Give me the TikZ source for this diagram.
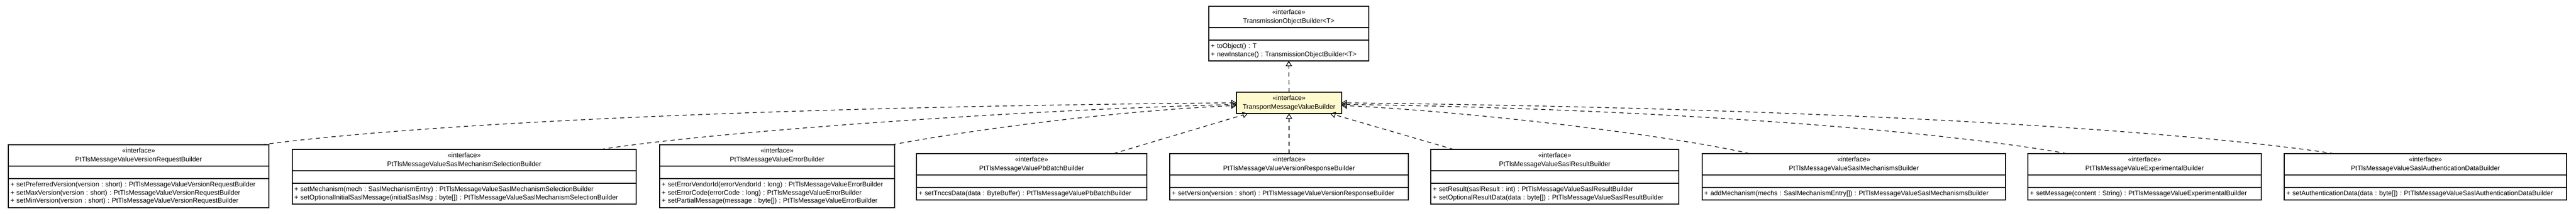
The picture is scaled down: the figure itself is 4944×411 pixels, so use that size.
\documentclass[tikz,border=0pt]{standalone}
\usepackage{fontspec}
\setmainfont{Liberation Sans}
\usetikzlibrary{arrows.meta, positioning}
\definecolor{ifacefill}{RGB}{255,250,205}

\begin{document}
\begin{tikzpicture}[x=0.5pt, y=-0.5pt,
        classhead/.style={rectangle, draw, fill=white, line width=0.8pt, outer sep=0pt, inner sep=0pt, minimum width=#1, minimum height=20.5pt, align=center, anchor=north, font=\fontsize{6.4}{8.5}\selectfont\frenchspacing},
        classattr/.style={rectangle, draw, fill=white, line width=0.8pt, outer sep=0pt, inner sep=0pt, minimum width=#1, minimum height=12pt},
        classops/.style 2 args={rectangle, draw, fill=white, line width=0.8pt, outer sep=0pt, inner xsep=2pt, inner ysep=0pt, text width=#1, minimum height=#2, align=left, font=\fontsize{6.4}{7.75}\selectfont\frenchspacing},
        impl/.style={line width=0.6pt, dash pattern=on 4pt off 3.5pt, -{Triangle[open, length=5pt, width=6pt]}}
    ]
        \useasboundingbox (0,0) rectangle (4944,411);

        % Parent interfaces
        \node[classhead=153.5pt] (tobH) at (2473.5,12) {«interface»\\TransmissionObjectBuilder<T>};
        \node[classattr=153.5pt, below=0pt of tobH] (tobA) {};
        \node[classops={149.5pt}{20pt}, below=0pt of tobA] (tobM) {+ toObject() : T\\+ newInstance() : TransmissionObjectBuilder<T>};

        \node[classhead=101pt, fill=ifacefill] (tmvH) at (2474,177) {«interface»\\TransportMessageValueBuilder};

        % Message value builders
        \node[classhead=250pt] (vreqH) at (266,278) {«interface»\\PtTlsMessageValueVersionRequestBuilder};
        \node[classattr=250pt, below=0pt of vreqH] (vreqA) {};
        \node[classops={246pt}{28pt}, below=0pt of vreqA] (vreqM) {+ setPreferredVersion(version : short) : PtTlsMessageValueVersionRequestBuilder\\+ setMaxVersion(version : short) : PtTlsMessageValueVersionRequestBuilder\\+ setMinVersion(version : short) : PtTlsMessageValueVersionRequestBuilder};

        \node[classhead=330pt] (mselH) at (891,287) {«interface»\\PtTlsMessageValueSaslMechanismSelectionBuilder};
        \node[classattr=330pt, below=0pt of mselH] (mselA) {};
        \node[classops={326pt}{20pt}, below=0pt of mselA] (mselM) {+ setMechanism(mech : SaslMechanismEntry) : PtTlsMessageValueSaslMechanismSelectionBuilder\\+ setOptionalInitialSaslMessage(initialSaslMsg : byte[]) : PtTlsMessageValueSaslMechanismSelectionBuilder};

        \node[classhead=225.5pt] (errH) at (1491.5,278) {«interface»\\PtTlsMessageValueErrorBuilder};
        \node[classattr=225.5pt, below=0pt of errH] (errA) {};
        \node[classops={221.5pt}{28pt}, below=0pt of errA] (errM) {+ setErrorVendorId(errorVendorId : long) : PtTlsMessageValueErrorBuilder\\+ setErrorCode(errorCode : long) : PtTlsMessageValueErrorBuilder\\+ setPartialMessage(message : byte[]) : PtTlsMessageValueErrorBuilder};

        \node[classhead=221pt] (pbbH) at (1980,295) {«interface»\\PtTlsMessageValuePbBatchBuilder};
        \node[classattr=221pt, below=0pt of pbbH] (pbbA) {};
        \node[classops={217pt}{12pt}, below=0pt of pbbA] (pbbM) {+ setTnccsData(data : ByteBuffer) : PtTlsMessageValuePbBatchBuilder};

        \node[classhead=229pt] (vrspH) at (2474,295) {«interface»\\PtTlsMessageValueVersionResponseBuilder};
        \node[classattr=229pt, below=0pt of vrspH] (vrspA) {};
        \node[classops={225pt}{12pt}, below=0pt of vrspA] (vrspM) {+ setVersion(version : short) : PtTlsMessageValueVersionResponseBuilder};

        \node[classhead=238pt] (sresH) at (2984,287) {«interface»\\PtTlsMessageValueSaslResultBuilder};
        \node[classattr=238pt, below=0pt of sresH] (sresA) {};
        \node[classops={234pt}{20pt}, below=0pt of sresA] (sresM) {+ setResult(saslResult : int) : PtTlsMessageValueSaslResultBuilder\\+ setOptionalResultData(data : byte[]) : PtTlsMessageValueSaslResultBuilder};

        \node[classhead=291pt] (mechsH) at (3558,295) {«interface»\\PtTlsMessageValueSaslMechanismsBuilder};
        \node[classattr=291pt, below=0pt of mechsH] (mechsA) {};
        \node[classops={287pt}{12pt}, below=0pt of mechsA] (mechsM) {+ addMechanism(mechs : SaslMechanismEntry[]) : PtTlsMessageValueSaslMechanismsBuilder};

        \node[classhead=224pt] (expH) at (4116,295) {«interface»\\PtTlsMessageValueExperimentalBuilder};
        \node[classattr=224pt, below=0pt of expH] (expA) {};
        \node[classops={220pt}{12pt}, below=0pt of expA] (expM) {+ setMessage(content : String) : PtTlsMessageValueExperimentalBuilder};

        \node[classhead=271pt] (authH) at (4655,295) {«interface»\\PtTlsMessageValueSaslAuthenticationDataBuilder};
        \node[classattr=271pt, below=0pt of authH] (authA) {};
        \node[classops={267pt}{12pt}, below=0pt of authA] (authM) {+ setAuthenticationData(data : byte[]) : PtTlsMessageValueSaslAuthenticationDataBuilder};

        % Realisations
        \draw[impl] (tmvH.north) -- (tobM.south);
        \draw[impl] ([xshift=-7pt]vreqH.north east) .. controls +(300,-40) and +(-900,7.5) .. (tmvH.west);
        \draw[impl] ([xshift=-34pt]mselH.north east) .. controls +(200,-32) and +(-450,12) .. ([yshift=-1.5pt]tmvH.west);
        \draw[impl] ([xshift=-2.5pt]errH.north east) .. controls +(150,-28) and +(-250,12) .. ([yshift=-2.5pt]tmvH.west);
        \draw[impl] ([xshift=-32pt]pbbH.north east) -- ([xshift=11pt]tmvH.south west);
        \draw[impl] (vrspH.north) -- (tmvH.south);
        \draw[impl] ([xshift=22pt]sresH.north west) -- ([xshift=-11pt]tmvH.south east);
        \draw[impl] ([xshift=45.5pt]mechsH.north west) .. controls +(-150,-35) and +(250,12) .. ([yshift=-2.5pt]tmvH.east);
        \draw[impl] ([xshift=37.5pt]expH.north west) .. controls +(-250,-45) and +(600,8) .. ([yshift=-1.5pt]tmvH.east);
        \draw[impl] ([xshift=48pt]authH.north west) .. controls +(-320,-48) and +(900,10) .. (tmvH.east);
    \end{tikzpicture}
\end{document}
